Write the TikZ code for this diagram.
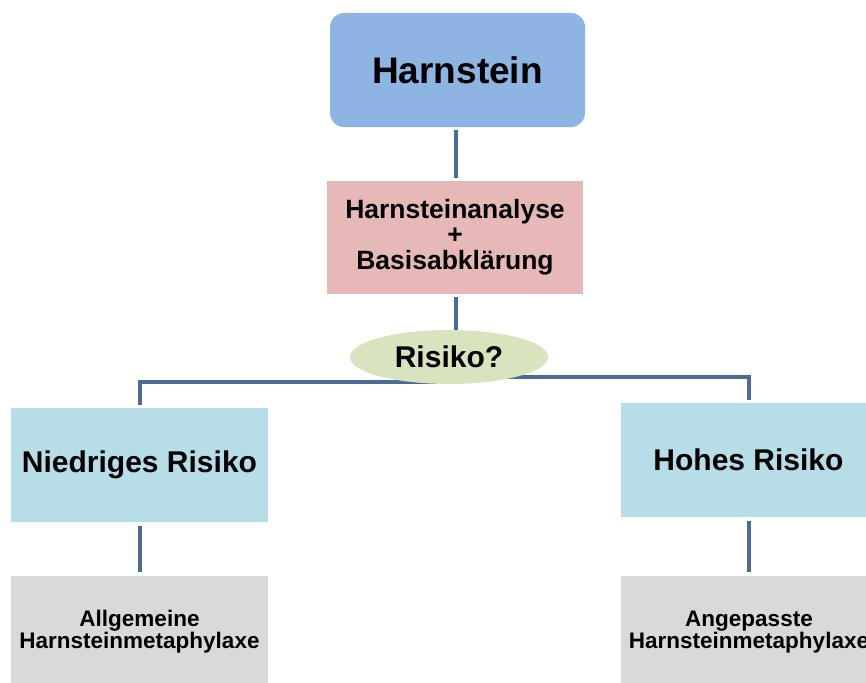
\documentclass[tikz,border=0pt]{standalone}
\usepackage{fontspec}
\setmainfont{Liberation Sans}
\usetikzlibrary{shapes.geometric,backgrounds}
\definecolor{cTop}{RGB}{142,180,227}
\definecolor{cPink}{RGB}{230,185,184}
\definecolor{cOval}{RGB}{215,228,189}
\definecolor{cCyan}{RGB}{183,221,232}
\definecolor{cGrey}{RGB}{217,217,217}
\definecolor{cLine}{RGB}{74,107,150}
\tikzset{
  box/.style={draw=none, inner sep=0pt, align=center, font=\bfseries},
  conn/.style={draw=cLine, line width=4pt},
}
\begin{document}
\begin{tikzpicture}[x=1pt,y=-1pt]
\useasboundingbox (0,0) rectangle (866,682);
\clip (0,0) rectangle (866,682);
\node[box, fill=cTop, rounded corners=14pt, minimum width=255pt, minimum height=114pt,
      font=\bfseries\fontsize{37}{40}\selectfont] (H) at (457.5,70) {Harnstein};
\node[box, fill=cPink, minimum width=256pt, minimum height=113pt,
      font=\bfseries\fontsize{26.5}{25.5}\selectfont] (A) at (455,237) {Harnsteinanalyse\\+\\Basisabklärung};
\node[box, ellipse, fill=cOval, minimum width=198pt, minimum height=54pt,
      font=\bfseries\fontsize{30}{32}\selectfont] (R) at (449,357) {Risiko?};
\node[box, fill=cCyan, minimum width=257pt, minimum height=114pt,
      font=\bfseries\fontsize{30}{32}\selectfont] (N) at (139.5,465) {Niedriges Risiko};
\node[box, fill=cCyan, minimum width=255pt, minimum height=114pt,
      font=\bfseries\fontsize{30}{32}\selectfont] (Ho) at (748.5,460) {Hohes Risiko};
\node[box, fill=cGrey, minimum width=257pt, minimum height=112pt,
      font=\bfseries\fontsize{22.5}{21}\selectfont] (G) at (139.5,632) {Allgemeine\\Harnsteinmetaphylaxe};
\node[box, fill=cGrey, minimum width=256pt, minimum height=112pt,
      font=\bfseries\fontsize{22.5}{21}\selectfont] (P) at (749,632) {Angepasste\\Harnsteinmetaphylaxe};
\coordinate (cx) at (456,0);
\coordinate (lx) at (139.5,0);
\coordinate (rx) at (749,0);
\coordinate (lj) at (139.5,382);
\coordinate (lr) at (449,382);
\coordinate (rj) at (749,377);
\coordinate (rr) at (449,377);
\begin{pgfonlayer}{background}
\fill[white] (0,0) rectangle (866,682);
\draw[conn, shorten <=3pt, shorten >=2pt] (H.south -| cx) -- (A.north -| cx);
\draw[conn, shorten <=3pt] (A.south -| cx) -- (R.center -| cx);
\draw[conn, shorten <=3pt] (N.north) -- (lj) -- (lr);
\draw[conn, shorten <=3pt] (Ho.north -| rx) -- (rj) -- (rr);
\draw[conn, shorten <=4pt, shorten >=4pt] (N.south -| lx) -- (G.north -| lx);
\draw[conn, shorten <=4pt, shorten >=4pt] (Ho.south -| rx) -- (P.north -| rx);
\end{pgfonlayer}
\end{tikzpicture}
\end{document}
